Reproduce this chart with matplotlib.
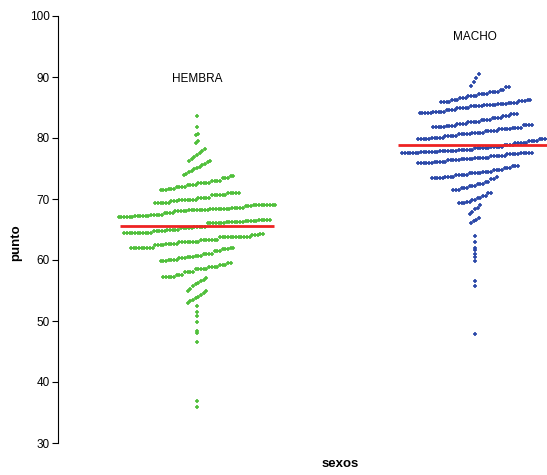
import matplotlib.pyplot as plt
import numpy as np

plt.rcParams['font.family'] = ['Liberation Sans Narrow', 'Liberation Sans', 'DejaVu Sans']

# Grupos y medias
grupos = ['HEMBRA', 'MACHO']
posiciones = [1, 2]
medias = [65.5, 78.8]
colores = ['#4fbf3a', '#2b48a8']

# Cada fila de la nube: lista de (valor, numero de puntos)
filas_hembra = [
    [(35.9, 1)], [(36.9, 1)], [(46.6, 1)], [(48.0, 1)], [(48.3, 1)],
    [(49.8, 1)], [(50.8, 1)], [(51.5, 1)], [(52.5, 1)],
    [(53.0, 1), (53.2, 1), (53.5, 1), (53.7, 1), (53.9, 1), (54.2, 1), (54.6, 1), (54.9, 1)],
    [(55.0, 1), (55.3, 1), (55.7, 1), (56.0, 1), (56.3, 1), (56.5, 1), (56.8, 1), (57.0, 1)],
    [(57.2, 5), (57.6, 3), (58.0, 4), (58.6, 5), (58.8, 4), (59.2, 3), (59.5, 2)],
    [(59.9, 3), (60.0, 4), (60.4, 3), (60.5, 3), (60.7, 3), (61.0, 4), (61.5, 3), (61.8, 3), (62.0, 2)],
    [(62.0, 9), (62.4, 4), (62.7, 5), (63.0, 8), (63.3, 7), (63.7, 6), (63.8, 6), (64.1, 3), (64.3, 2)],
    [(64.4, 5), (64.5, 6), (64.7, 5), (64.9, 5), (65.3, 5), (65.4, 5), (66.1, 7), (66.2, 7), (66.4, 5), (66.6, 5)],
    [(67.0, 6), (67.2, 6), (67.4, 5), (67.7, 4), (68.0, 5), (68.2, 8), (68.4, 8), (68.6, 5), (68.8, 3), (69.0, 9)],
    [(69.3, 6), (69.6, 3), (69.8, 7), (70.2, 5), (70.6, 6), (71.0, 5)],
    [(71.5, 3), (71.6, 3), (72.0, 4), (72.3, 4), (72.6, 5), (73.0, 4), (73.4, 3), (73.8, 2)],
    [(73.9, 1), (74.1, 1), (74.4, 1), (74.6, 1), (74.9, 1), (75.1, 1), (75.3, 1), (75.5, 1),
     (75.8, 1), (76.1, 1), (76.2, 1)],
    [(76.3, 1), (76.6, 1), (76.9, 1), (77.2, 1), (77.5, 1), (77.8, 1), (78.2, 1)],
    [(79.2, 1), (79.5, 1)], [(80.5, 1), (80.7, 1)], [(81.8, 1)], [(83.6, 1)],
]

filas_macho = [
    [(47.9, 1)], [(55.7, 1)], [(56.6, 1)], [(59.8, 1)], [(60.5, 1)], [(61.0, 1)],
    [(61.6, 1)], [(62.0, 1)], [(63.0, 1)], [(63.9, 1)],
    [(66.1, 1), (66.4, 1), (66.6, 1), (66.9, 1)],
    [(67.5, 1), (67.9, 1), (68.3, 1), (68.6, 1), (69.0, 1)],
    [(69.3, 3), (69.5, 2), (69.9, 2), (70.2, 2), (70.5, 2), (71.0, 2)],
    [(71.5, 3), (71.8, 3), (72.1, 3), (72.4, 3), (72.8, 2), (73.2, 2), (73.6, 1)],
    [(73.4, 5), (73.6, 4), (73.9, 5), (74.2, 5), (74.5, 4), (74.8, 4), (75.1, 3), (75.4, 3)],
    [(75.9, 6), (76.1, 5), (76.4, 5), (76.6, 5), (76.8, 6), (77.1, 6), (77.3, 5), (77.5, 5)],
    [(77.6, 7), (77.7, 7), (77.9, 7), (78.1, 6), (78.3, 6), (78.6, 5), (78.8, 4), (79.2, 5), (79.5, 4), (79.8, 4)],
    [(79.8, 5), (80.0, 5), (80.3, 5), (80.6, 5), (80.8, 5), (81.1, 5), (81.4, 5), (81.7, 4), (82.1, 4)],
    [(81.8, 5), (82.0, 4), (82.3, 4), (82.6, 5), (82.9, 4), (83.2, 4), (83.6, 3), (83.9, 3)],
    [(84.1, 5), (84.3, 5), (84.6, 4), (84.9, 5), (85.2, 5), (85.4, 5), (85.6, 4), (85.8, 4), (86.0, 3), (86.2, 2)],
    [(85.9, 4), (86.2, 3), (86.5, 3), (86.9, 4), (87.2, 4), (87.5, 4), (87.9, 2), (88.3, 2)],
    [(88.5, 1), (89.2, 1), (89.8, 1), (90.5, 1)],
]

filas = [filas_hembra, filas_macho]

fig = plt.figure(figsize=(5.47, 4.75), dpi=100)
ax = fig.add_axes([58 / 547, 1 - 443 / 475, 489 / 547, 427 / 475])

paso = 0.0097  # separacion horizontal entre puntos de una fila
for pos, filas_g, color, media, nombre in zip(posiciones, filas, colores, medias, grupos):
    ymax = 0
    for fila in filas_g:
        vals = np.repeat([v for v, n in fila], [n for v, n in fila])
        k = len(vals)
        xs = pos + (np.arange(k) - (k - 1) / 2) * paso
        ax.plot(xs, vals, linestyle='none', marker='+', markersize=3.5,
                markeredgewidth=1.2, color=color, zorder=2)
        ymax = max(ymax, vals.max())
    # linea de la media
    ax.hlines(media, pos - 0.277, pos + 0.277, color='#ee2222', linewidth=2, zorder=3)
    ax.text(pos, ymax + 6, nombre, ha='center', va='center', fontsize=8.5)

ax.set_xlim(0.5, 2.259)
ax.set_ylim(30, 100)
ax.set_yticks(np.arange(30, 101, 10))
ax.set_xticks([])
for s in ['top', 'right', 'bottom']:
    ax.spines[s].set_visible(False)
ax.spines['left'].set_linewidth(0.8)
ax.tick_params(axis='y', direction='out', length=4, width=0.8, labelsize=8.5, pad=2)

ax.set_ylabel('punto', fontweight='bold', fontsize=9.5, family=['Liberation Sans', 'DejaVu Sans'])
ax.yaxis.set_label_coords(-0.074, 0.47)
ax.set_xlabel('sexos', fontweight='bold', fontsize=9.5, family=['Liberation Sans', 'DejaVu Sans'])
ax.xaxis.set_label_coords(0.577, -0.036)

plt.savefig('out.png', dpi=100)
